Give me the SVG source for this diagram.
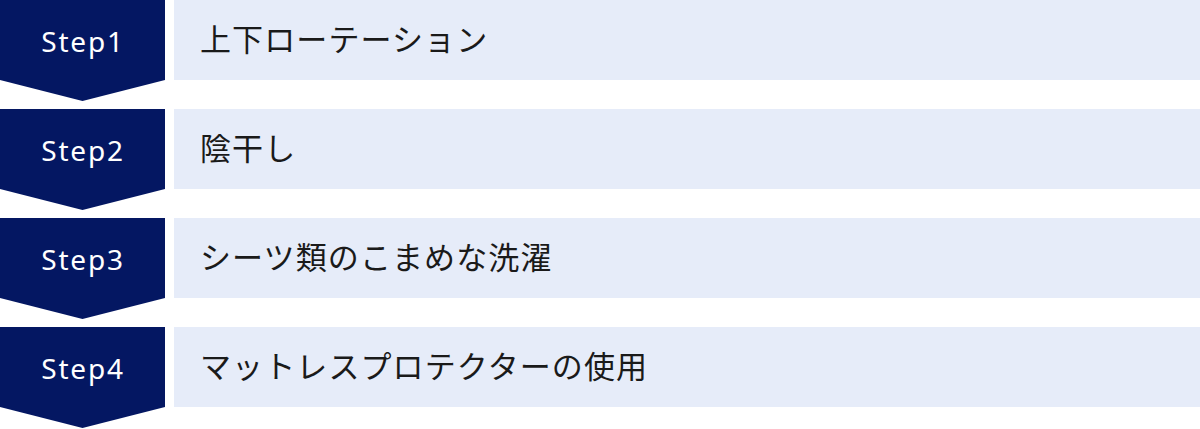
<svg xmlns="http://www.w3.org/2000/svg" width="1200" height="429" viewBox="0 0 1200 429">
<defs>
<style>
.badge{fill:#041762;}
.bar{fill:#e6ecf9;}
.step{font-family:"Noto Sans","Open Sans","DejaVu Sans",sans-serif;font-size:28px;fill:#ffffff;text-anchor:middle;letter-spacing:1.8px;}
.label{font-family:"Noto Sans CJK JP","Noto Sans",sans-serif;font-size:31px;fill:#1a1a1a;letter-spacing:1.1px;}
</style>
<polygon id="chev" class="badge" points="0,0 165,0 165,80 82.5,101 0,80"/>
</defs>
<g id="connectors"></g>
<g id="step1">
<use href="#chev" x="0" y="0"/>
<rect class="bar" x="174" y="0" width="1026" height="80"/>
<text class="step" x="83" y="52">Step1</text>
<text class="label" x="200" y="51">上下ローテーション</text>
</g>
<g id="step2">
<use href="#chev" x="0" y="109"/>
<rect class="bar" x="174" y="109" width="1026" height="80"/>
<text class="step" x="83" y="161">Step2</text>
<text class="label" x="200" y="160">陰干し</text>
</g>
<g id="step3">
<use href="#chev" x="0" y="218"/>
<rect class="bar" x="174" y="218" width="1026" height="80"/>
<text class="step" x="83" y="270">Step3</text>
<text class="label" x="200" y="269">シーツ類のこまめな洗濯</text>
</g>
<g id="step4">
<use href="#chev" x="0" y="327"/>
<rect class="bar" x="174" y="327" width="1026" height="80"/>
<text class="step" x="83" y="379">Step4</text>
<text class="label" x="200" y="378">マットレスプロテクターの使用</text>
</g>
</svg>
